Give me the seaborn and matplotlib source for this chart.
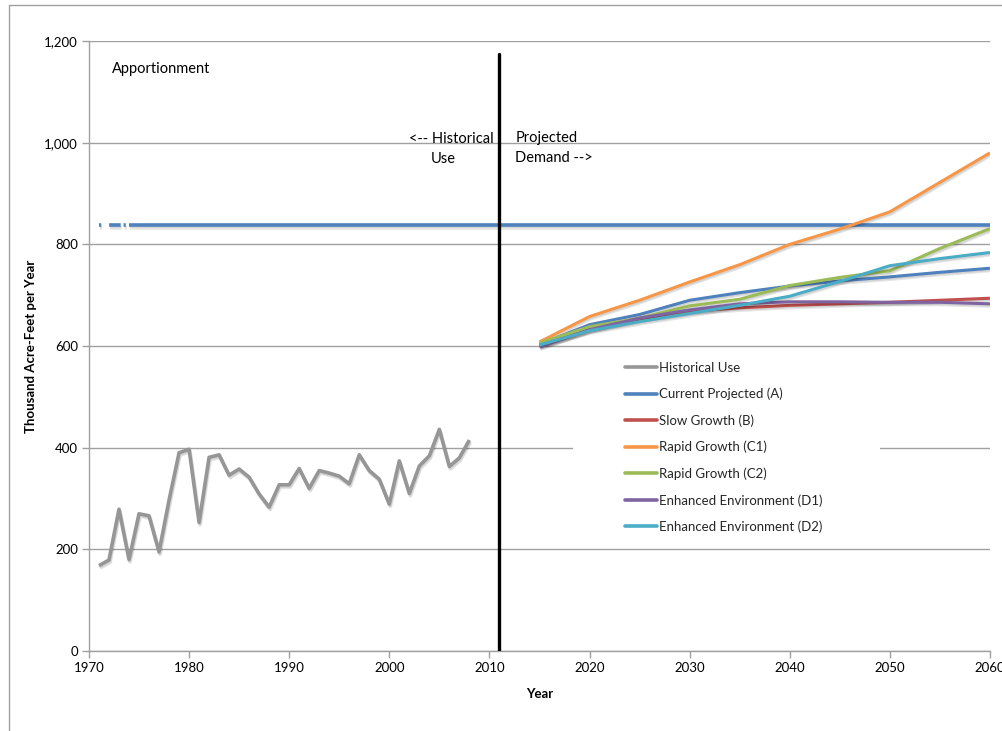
import matplotlib
matplotlib.use("Agg")
import matplotlib.pyplot as plt
import matplotlib.patheffects as pe
from matplotlib.lines import Line2D
from matplotlib.patches import Rectangle
from matplotlib.ticker import FuncFormatter, MultipleLocator
import pandas as pd
import seaborn as sns

# ---- data (thousand acre-feet per year) ----
hist_years = list(range(1971, 2009))
hist_use = [168, 179, 279, 180, 270, 266, 195, 297, 390, 397,
            253, 381, 386, 346, 358, 342, 309, 283, 327, 327,
            359, 320, 355, 350, 344, 329, 386, 355, 338, 289,
            374, 310, 364, 384, 436, 363, 380, 415]

proj_years = [2015, 2020, 2025, 2030, 2035, 2040, 2045, 2050, 2055, 2060]
current_a = [603, 642, 662, 690, 705, 718, 728, 736, 745, 753]
slow_b = [600, 632, 653, 668, 675, 680, 683, 686, 690, 694]
rapid_c1 = [608, 658, 690, 726, 760, 800, 830, 864, 922, 980]
rapid_c2 = [606, 638, 655, 679, 692, 719, 735, 748, 792, 831]
enviro_d1 = [598, 632, 655, 671, 683, 687, 687, 686, 686, 683]
enviro_d2 = [602, 630, 648, 664, 680, 698, 727, 758, 772, 784]

apportion_years = [1971, 1974, 2060]
apportion_level = [838, 838, 838]

divider_year = [2011, 2011]
divider_span = [0, 1175]

scenario_names = ["Current Projected (A)", "Slow Growth (B)", "Rapid Growth (C1)",
                  "Rapid Growth (C2)", "Enhanced Environment (D1)", "Enhanced Environment (D2)"]
scenario_values = [current_a, slow_b, rapid_c1, rapid_c2, enviro_d1, enviro_d2]
scenario_colors = ["#4F81BD", "#C0504D", "#F79646", "#9BBB59", "#8064A2", "#4BACC6"]
hist_color = "#969696"

proj = pd.DataFrame(
    [(yr, v, name) for name, vals in zip(scenario_names, scenario_values)
     for yr, v in zip(proj_years, vals)],
    columns=["Year", "Demand", "Scenario"])
hist = pd.DataFrame({"Year": hist_years, "Demand": hist_use})

# ---- styling ----
sns.set_theme(style="white")
plt.rcParams["font.family"] = ["Lato", "DejaVu Sans"]
grid_gray = "#a0a0a0"

fig = plt.figure(figsize=(10.03, 7.31), dpi=100)
ax = fig.add_axes([0.0887, 0.1094, 0.8983, 0.8345])

# soft drop shadow under every series line
shadow = [pe.SimpleLineShadow(offset=(0.8, -1.8), shadow_color="black", alpha=0.10),
          pe.SimpleLineShadow(offset=(0.5, -1.0), shadow_color="black", alpha=0.08),
          pe.Normal()]

# apportionment level
sns.lineplot(x=apportion_years[:2], y=apportion_level[:2], color="#4F81BD", lw=2.6,
             ax=ax, linestyle=(0, (0.6, 2.2, 3.2, 0.8)))
sns.lineplot(x=apportion_years[1:], y=apportion_level[1:], color="#4F81BD", lw=2.6, ax=ax)

# historical use
sns.lineplot(data=hist, x="Year", y="Demand", color=hist_color, lw=2.6, ax=ax)

# projected demand scenarios
sns.lineplot(data=proj, x="Year", y="Demand", hue="Scenario", hue_order=scenario_names,
             palette=dict(zip(scenario_names, scenario_colors)), lw=2.2, ax=ax,
             legend=False)

for ln in ax.get_lines():
    ln.set_path_effects(shadow)
    ln.set_solid_capstyle("butt")

# divider between historical and projected
ax.plot(divider_year, divider_span, color="black", lw=2.4, zorder=4)

# axes
ax.set_xlim(1970, 2060)
ax.set_ylim(0, 1200)
ax.xaxis.set_major_locator(MultipleLocator(10))
ax.yaxis.set_major_locator(MultipleLocator(200))
ax.yaxis.set_major_formatter(FuncFormatter(lambda v, p: f"{int(v):,}"))
ax.yaxis.grid(True, color=grid_gray, lw=1)
ax.xaxis.grid(False)
ax.set_axisbelow(True)
for side in ["top", "right"]:
    ax.spines[side].set_visible(False)
for side in ["left", "bottom"]:
    ax.spines[side].set_color(grid_gray)
    ax.spines[side].set_linewidth(1)
ax.tick_params(axis="both", which="major", bottom=True, left=True, direction="out",
               length=5, width=1, color=grid_gray, labelsize=9.5, labelcolor="black", pad=3)
ax.set_xlabel("Year", fontsize=9.5, fontweight="bold", color="black", labelpad=10)
ax.set_ylabel("Thousand Acre-Feet per Year", fontsize=9.5, fontweight="bold",
              color="black", labelpad=5)

# annotations
ax.text(1972.3, 1145, "Apportionment", fontsize=10.5, ha="left", va="center", color="black")
ax.text(2006.2, 1007, "<-- Historical", fontsize=10.5, ha="center", va="center", color="black")
ax.text(2005.4, 968, "Use", fontsize=10.5, ha="center", va="center", color="black")
ax.text(2012.6, 1009, "Projected", fontsize=10.5, ha="left", va="center", color="black")
ax.text(2012.6, 970, "Demand -->", fontsize=10.5, ha="left", va="center", color="black")

# legend area
ax.add_patch(Rectangle((0.537, 0.182), 0.341, 0.303, transform=ax.transAxes,
                       facecolor="white", edgecolor="none", zorder=1))
handles = [Line2D([], [], color=hist_color, lw=2.6)] + \
          [Line2D([], [], color=c, lw=2.6) for c in scenario_colors]
labels = ["Historical Use"] + scenario_names
ax.legend(handles, labels, loc="upper left", bbox_to_anchor=(0.595, 0.474),
          frameon=False, fontsize=9.5, handlelength=2.4, handletextpad=0.15,
          labelspacing=1.06, borderpad=0, borderaxespad=0)

# outer chart frame
fig.add_artist(Line2D([9 / 1003, 9 / 1003], [0, 1 - 5 / 731], transform=fig.transFigure,
                      color=grid_gray, lw=1))
fig.add_artist(Line2D([9 / 1003, 1], [1 - 5 / 731, 1 - 5 / 731], transform=fig.transFigure,
                      color=grid_gray, lw=1))

fig.savefig("out.png", dpi=100)
